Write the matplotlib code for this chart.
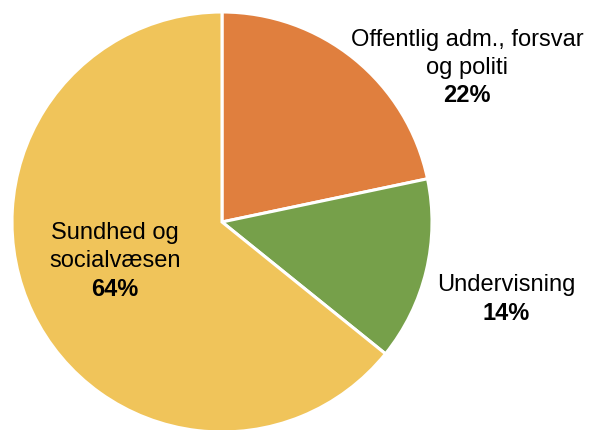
import matplotlib.pyplot as plt

labels = ['Offentlig adm., forsvar\nog politi', 'Undervisning', 'Sundhed og\nsocialvæsen']
shares = [21.7, 14.1, 64.2]
colors = ['#E07F3E', '#76A04A', '#F0C45A']

# label anchor points in pixel coords of the 589x430 image (centre of text block)
label_px = [(467, 68), (506, 299), (115, 261)]

W, H = 589, 430
cx, cy, r = 222, 222, 210

plt.rcParams['font.family'] = ['Liberation Sans', 'DejaVu Sans']

fig = plt.figure(figsize=(W / 100, H / 100), dpi=100)
ax = fig.add_axes([0, 0, 1, 1])
ax.pie(shares, colors=colors, startangle=90, counterclock=False,
       radius=1.0, wedgeprops=dict(edgecolor='white', linewidth=2.2))
ax.set_xlim(-cx / r, (W - cx) / r)
ax.set_ylim((cy - H) / r, cy / r)
ax.set_aspect('auto')
ax.axis('off')


def to_data(px, py):
    return (px - cx) / r, (cy - py) / r


for lab, val, (px, py) in zip(labels, shares, label_px):
    x, y = to_data(px, py)
    n = lab.count('\n') + 1
    line = 28 / r
    top = y + (n + 1) * line / 2
    for i, part in enumerate(lab.split('\n')):
        ax.text(x, top - (i + 0.5) * line, part, ha='center', va='center',
                fontsize=17, color='black')
    ax.text(x, top - (n + 0.5) * line, f'{round(val)}%', ha='center', va='center',
            fontsize=17, fontweight='bold', color='black')

fig.savefig('out.png', dpi=100)
